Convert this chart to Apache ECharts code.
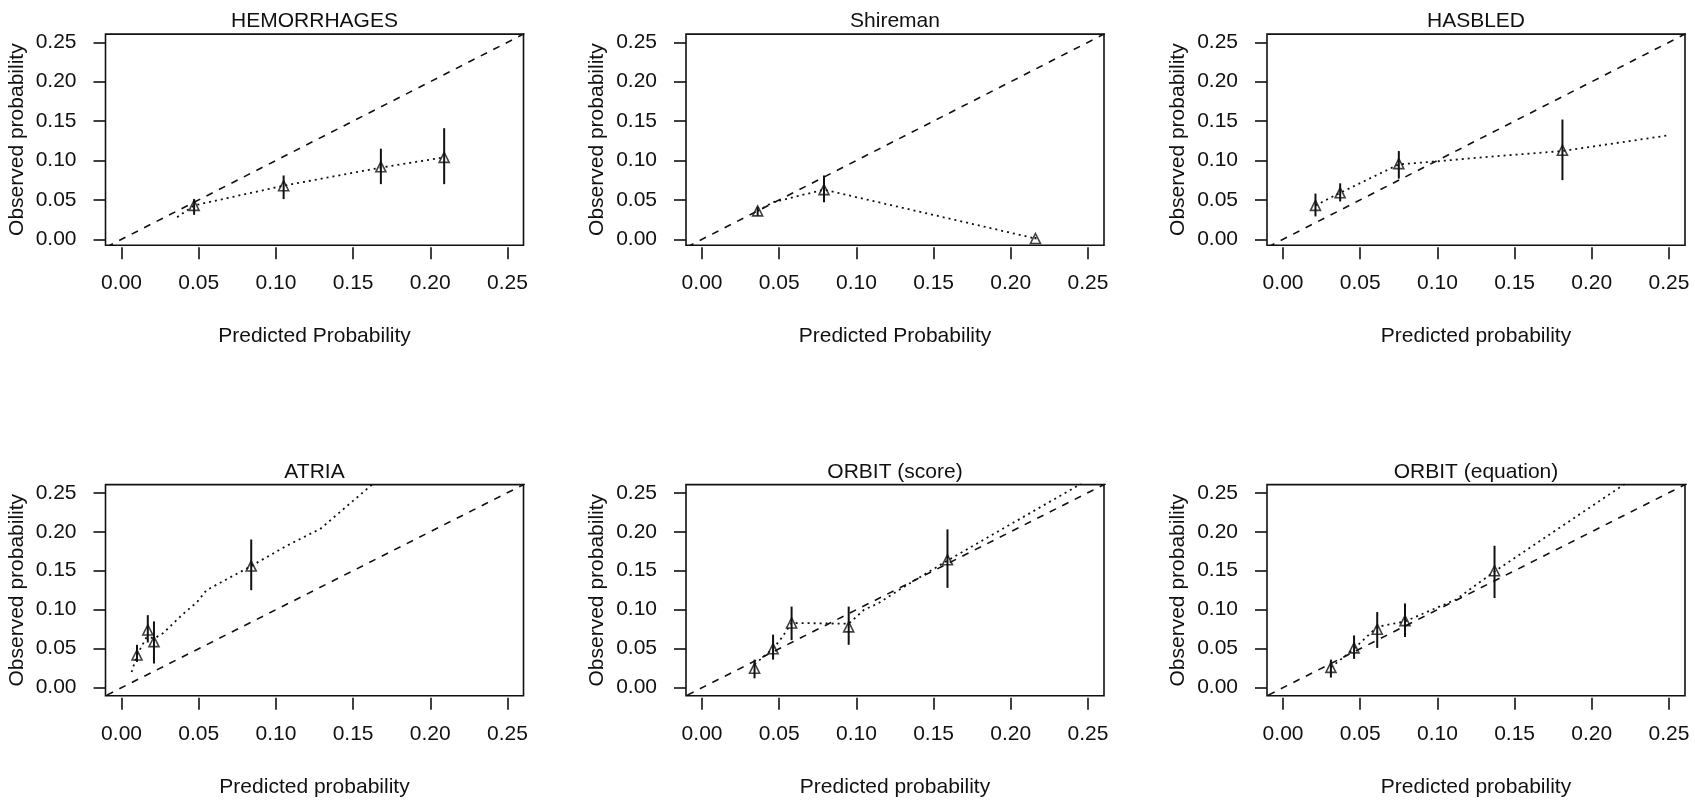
<!DOCTYPE html>
<html>
<head>
<meta charset="utf-8">
<script src="https://cdn.jsdelivr.net/npm/echarts@6/dist/echarts.min.js"></script>
<style>
  html, body { margin: 0; padding: 0; background: #ffffff; }
  #chart { width: 1695px; height: 802px; }
</style>
</head>
<body>
<div id="chart"></div>
<script>
// ---- labels ----
const tickValues = [0, 0.05, 0.10, 0.15, 0.20, 0.25];
const panelTitles = ['HEMORRHAGES', 'Shireman', 'HASBLED', 'ATRIA', 'ORBIT (score)', 'ORBIT (equation)'];
const xTitles = ['Predicted Probability', 'Predicted Probability', 'Predicted probability',
                 'Predicted probability', 'Predicted probability', 'Predicted probability'];
const yTitle = 'Observed probability';

// ---- identity (perfect calibration) line ends ----
const identityEnds = [-0.05, 0.3];

// ---- HEMORRHAGES ----
const hemPred = [0.047, 0.105, 0.168, 0.209];
const hemObs  = [0.043, 0.068, 0.092, 0.104];
const hemLow  = [0.031, 0.051, 0.070, 0.070];
const hemHigh = [0.051, 0.081, 0.115, 0.141];
const hemCurvePred = [0.036, 0.047, 0.105, 0.168, 0.209];
const hemCurveObs  = [0.028, 0.043, 0.068, 0.091, 0.104];

// ---- Shireman ----
const shirPred = [0.036, 0.079, 0.216];
const shirObs  = [0.036, 0.063, 0.001];
const shirLow  = [0.030, 0.047, 0.000];
const shirHigh = [0.041, 0.081, 0.003];
const shirCurvePred = [0.036, 0.046, 0.079, 0.216];
const shirCurveObs  = [0.036, 0.047, 0.063, 0.001];

// ---- HASBLED ----
const hasPred = [0.021, 0.037, 0.075, 0.181];
const hasObs  = [0.043, 0.059, 0.096, 0.113];
const hasLow  = [0.029, 0.048, 0.077, 0.075];
const hasHigh = [0.058, 0.071, 0.112, 0.152];
const hasCurvePred = [0.021, 0.037, 0.075, 0.100, 0.135, 0.181, 0.250];
const hasCurveObs  = [0.043, 0.059, 0.095, 0.099, 0.105, 0.112, 0.132];

// ---- ATRIA ----
const atrPred = [0.010, 0.017, 0.021, 0.084];
const atrObs  = [0.042, 0.074, 0.059, 0.156];
const atrLow  = [0.033, 0.058, 0.031, 0.125];
const atrHigh = [0.055, 0.093, 0.085, 0.190];
const atrCurvePred = [0.0065, 0.010, 0.016, 0.022, 0.027, 0.039, 0.049, 0.055, 0.084, 0.106, 0.129, 0.165];
const atrCurveObs  = [0.020, 0.042, 0.064, 0.064, 0.070, 0.093, 0.110, 0.125, 0.156, 0.181, 0.204, 0.265];

// ---- ORBIT (score) ----
const orsPred = [0.034, 0.046, 0.058, 0.095, 0.159];
const orsObs  = [0.025, 0.050, 0.083, 0.078, 0.164];
const orsLow  = [0.012, 0.036, 0.061, 0.055, 0.128];
const orsHigh = [0.036, 0.068, 0.104, 0.104, 0.203];
const orsCurvePred = [0.034, 0.046, 0.052, 0.058, 0.095, 0.105, 0.114, 0.133, 0.159, 0.246];
const orsCurveObs  = [0.030, 0.050, 0.065, 0.083, 0.082, 0.100, 0.108, 0.132, 0.163, 0.262];

// ---- ORBIT (equation) ----
const orePred = [0.031, 0.046, 0.061, 0.079, 0.137];
const oreObs  = [0.026, 0.051, 0.075, 0.086, 0.150];
const oreLow  = [0.013, 0.037, 0.051, 0.065, 0.115];
const oreHigh = [0.036, 0.067, 0.097, 0.108, 0.182];
const oreCurvePred = [0.031, 0.046, 0.061, 0.079, 0.112, 0.137, 0.222];
const oreCurveObs  = [0.026, 0.050, 0.078, 0.085, 0.113, 0.149, 0.262];

// ---- layout ----
const ink = '#111111';
const fontFamily = '"Liberation Sans", Arial, sans-serif';
const colLeft = [105.5, 686, 1267];
const plotWidth = 418;
const rowTop = [34.1, 484.6];
const rowHeight = [211.1, 211.2];
const rowYMin = [-0.0075, -0.0104];
const xMin = -0.0104, xMax = 0.2604, yMax = 0.2604;

const panels = [
  { pred: hemPred, obs: hemObs, low: hemLow, high: hemHigh, cx: hemCurvePred, cy: hemCurveObs },
  { pred: shirPred, obs: shirObs, low: shirLow, high: shirHigh, cx: shirCurvePred, cy: shirCurveObs },
  { pred: hasPred, obs: hasObs, low: hasLow, high: hasHigh, cx: hasCurvePred, cy: hasCurveObs },
  { pred: atrPred, obs: atrObs, low: atrLow, high: atrHigh, cx: atrCurvePred, cy: atrCurveObs },
  { pred: orsPred, obs: orsObs, low: orsLow, high: orsHigh, cx: orsCurvePred, cy: orsCurveObs },
  { pred: orePred, obs: oreObs, low: oreLow, high: oreHigh, cx: oreCurvePred, cy: oreCurveObs }
];

const grid = [], xAxis = [], yAxis = [], series = [], title = [];
const textBase = { fontFamily: fontFamily, color: ink, fontWeight: 'normal' };

panels.forEach(function (p, i) {
  const col = i % 3, row = Math.floor(i / 3);
  const left = colLeft[col], top = rowTop[row], h = rowHeight[row];

  grid.push({
    left: left, top: top, width: plotWidth, height: h,
    show: true, borderColor: ink, borderWidth: 1.6, backgroundColor: 'transparent',
    containLabel: false, outerBoundsMode: 'none'
  });

  title.push({
    text: panelTitles[i], left: left + plotWidth / 2, top: top - 23,
    textAlign: 'center', padding: 0,
    textStyle: Object.assign({ fontSize: 21 }, textBase)
  });

  xAxis.push({
    gridIndex: i, type: 'value', position: 'bottom', min: xMin, max: xMax, offset: 2,
    name: xTitles[i], nameLocation: 'middle', nameGap: 79,
    nameTextStyle: Object.assign({ fontSize: 21 }, textBase),
    axisLine: { show: false, onZero: false },
    axisTick: { show: true, inside: false, length: 12, customValues: tickValues, lineStyle: { color: ink, width: 1.6 } },
    axisLabel: { show: true, customValues: tickValues, margin: 26, fontSize: 21, fontFamily: fontFamily, color: ink,
                 formatter: function (v) { return v.toFixed(2); } },
    splitLine: { show: false }
  });

  yAxis.push({
    gridIndex: i, type: 'value', position: 'left', min: rowYMin[row], max: yMax,
    name: yTitle, nameLocation: 'middle', nameGap: 78,
    nameTextStyle: Object.assign({ fontSize: 21 }, textBase),
    axisLine: { show: false, onZero: false },
    axisTick: { show: true, inside: false, length: 12, customValues: tickValues, lineStyle: { color: ink, width: 1.6 } },
    axisLabel: { show: true, customValues: tickValues, margin: 29, fontSize: 21, fontFamily: fontFamily, color: ink,
                 formatter: function (v) { return v.toFixed(2); } },
    splitLine: { show: false }
  });

  // identity line
  series.push({
    type: 'line', xAxisIndex: i, yAxisIndex: i, silent: true, clip: true, z: 2,
    showSymbol: false, symbol: 'none',
    data: identityEnds.map(function (v) { return [v, v]; }),
    lineStyle: { color: ink, width: 1.6, type: [7, 7] }
  });

  // smoothed calibration curve
  series.push({
    type: 'line', xAxisIndex: i, yAxisIndex: i, silent: true, clip: true, z: 3,
    showSymbol: false, symbol: 'none',
    data: p.cx.map(function (x, k) { return [x, p.cy[k]]; }),
    lineStyle: { color: ink, width: 1.8, type: [2, 4] }
  });

  // confidence intervals
  series.push({
    type: 'custom', xAxisIndex: i, yAxisIndex: i, silent: true, z: 4,
    data: p.pred.map(function (x, k) { return [x, p.low[k], p.high[k]]; }),
    encode: { x: 0, y: [1, 2] },
    renderItem: function (params, api) {
      const a = api.coord([api.value(0), api.value(1)]);
      const b = api.coord([api.value(0), api.value(2)]);
      return {
        type: 'line',
        shape: { x1: a[0], y1: a[1], x2: b[0], y2: b[1] },
        style: { stroke: ink, lineWidth: 2 }
      };
    }
  });

  // grouped observed vs predicted
  series.push({
    type: 'scatter', xAxisIndex: i, yAxisIndex: i, silent: true, z: 5,
    symbol: 'triangle', symbolSize: 10,
    data: p.pred.map(function (x, k) { return [x, p.obs[k]]; }),
    itemStyle: { color: 'rgba(0,0,0,0)', borderColor: ink, borderWidth: 1.6 }
  });
});

const chart = echarts.init(document.getElementById('chart'));
chart.setOption({
  animation: false,
  backgroundColor: '#ffffff',
  title: title,
  grid: grid,
  xAxis: xAxis,
  yAxis: yAxis,
  series: series
});
</script>
</body>
</html>
